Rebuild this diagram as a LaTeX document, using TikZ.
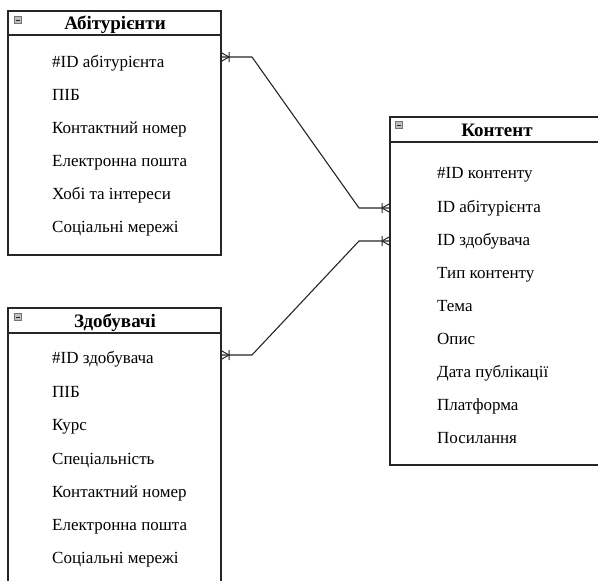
\documentclass[tikz,border=0pt]{standalone}
\usepackage{fontspec}
\setmainfont{Liberation Serif}
\begin{document}
\begin{tikzpicture}[x=1pt,y=-1pt,
  boxline/.style={draw=black!85,line width=1.3pt},
  hdr/.style={font=\fontsize{19}{21}\selectfont\bfseries,anchor=base,inner sep=0pt},
  item/.style={font=\fontsize{17}{19}\selectfont,anchor=base west,inner sep=0pt},
  conn/.style={draw=black!85,line width=1.1pt},
  minusicon/.style={draw=black!55,fill=black!25,line width=0.6pt}
]
\useasboundingbox (0,0) rectangle (598,581);
\clip (0,0) rectangle (598,581);
% Abiturienty
\draw[boxline] (8,11) rectangle (221,255);
\draw[boxline] (8,35) -- (221,35);
\node[hdr] (ah) at (115,29.5) {Абітурієнти};
\draw[minusicon] (14.5,16.5) rectangle (21.5,23.5);
\draw[black!85,line width=1pt] (15.8,20) -- (20.2,20);
\node[item] (a1) at (52,67) {\#ID абітурієнта};
\node[item] (a2) at (52,100) {ПІБ};
\node[item] (a3) at (52,133) {Контактний номер};
\node[item] (a4) at (52,166) {Електронна пошта};
\node[item] (a5) at (52,199) {Хобі та інтереси};
\node[item] (a6) at (52,232) {Соціальні мережі};
% Zdobuvachi
\draw[boxline] (8,308) rectangle (221,600);
\draw[boxline] (8,333) -- (221,333);
\node[hdr] (zh) at (115,327.5) {Здобувачі};
\draw[minusicon] (14.5,313.5) rectangle (21.5,320.5);
\draw[black!85,line width=1pt] (15.8,317) -- (20.2,317);
\node[item] (z1) at (52,363) {\#ID здобувача};
\node[item] (z2) at (52,397) {ПІБ};
\node[item] (z3) at (52,430) {Курс};
\node[item] (z4) at (52,464) {Спеціальність};
\node[item] (z5) at (52,497) {Контактний номер};
\node[item] (z6) at (52,530) {Електронна пошта};
\node[item] (z7) at (52,563) {Соціальні мережі};
% Kontent
\draw[boxline] (390,117) rectangle (610,465);
\draw[boxline] (390,142) -- (610,142);
\node[hdr] (kh) at (497,136.5) {Контент};
\draw[minusicon] (395.5,121.5) rectangle (402.5,128.5);
\draw[black!85,line width=1pt] (396.8,125) -- (401.2,125);
\node[item] (k1) at (437,178) {\#ID контенту};
\node[item] (k2) at (437,212) {ID абітурієнта};
\node[item] (k3) at (437,245) {ID здобувача};
\node[item] (k4) at (437,278) {Тип контенту};
\node[item] (k5) at (437,311) {Тема};
\node[item] (k6) at (437,344) {Опис};
\node[item] (k7) at (437,377) {Дата публікації};
\node[item] (k8) at (437,410) {Платформа};
\node[item] (k9) at (437,443) {Посилання};
% connection points
\coordinate (pA) at (221,57);
\coordinate (pK1) at (390,208);
\coordinate (pK2) at (390,241);
\coordinate (pZ) at (221,355);
\draw[conn] (pA) -- (252,57) -- (359,208) -- (pK1);
\draw[conn] (pZ) -- (252,355) -- (359,241) -- (pK2);
% crow's feet
\foreach \p/\s in {pA/1,pZ/1,pK1/-1,pK2/-1}{
  \draw[conn,line width=1pt] ([xshift=\s*8pt]\p) -- ([yshift=4.5pt]\p)
     ([xshift=\s*8pt]\p) -- ([yshift=-4.5pt]\p)
     ([xshift=\s*8pt,yshift=-5pt]\p) -- ([xshift=\s*8pt,yshift=5pt]\p);
}
\end{tikzpicture}
\end{document}
